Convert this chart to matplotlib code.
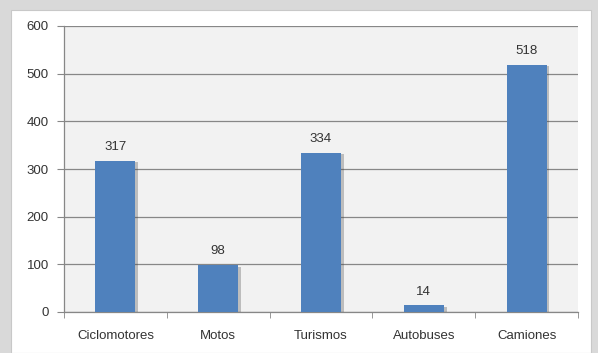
import matplotlib
matplotlib.use("Agg")
import matplotlib.pyplot as plt
import matplotlib.patheffects as pe
from matplotlib.patches import Rectangle

categorias = ["Ciclomotores", "Motos", "Turismos", "Autobuses", "Camiones"]
valores = [317, 98, 334, 14, 518]
yticks = [0, 100, 200, 300, 400, 500, 600]

plt.rcParams['font.family'] = ['Liberation Sans', 'DejaVu Sans']

fig = plt.figure(figsize=(5.98, 3.53), dpi=100)
fig.patch.set_facecolor('#d9d9d9')

# white chart area
W, H = 598, 353
fig.patches.append(Rectangle((11 / W, 0), 580 / W, 343 / H, transform=fig.transFigure,
                             facecolor='white', edgecolor='#c8c8c8', lw=0.8, zorder=-1))

ax = fig.add_axes([64 / W, (H - 312) / H, 514 / W, 286 / H])
ax.set_zorder(1)
ax.set_facecolor('#f2f2f2')

x = range(len(categorias))
barras = ax.bar(x, valores, width=0.39, color='#4f81bd', zorder=3)
for b in barras:
    b.set_path_effects([pe.SimplePatchShadow(offset=(2, -1), shadow_rgbFace='#444444', alpha=0.3),
                        pe.Normal()])

for xi, v in zip(x, valores):
    ax.text(xi, v + 29, str(v), ha='center', va='center', fontsize=9.5, color='#333333')

ax.set_xlim(-0.5, 4.5)
ax.set_ylim(0, 600)
ax.set_yticks(yticks)
ax.set_yticklabels([str(t) for t in yticks], fontsize=9.5, color='#333333')
ax.yaxis.grid(True, color='#878787', lw=0.9, zorder=1)
ax.set_axisbelow(True)

ax.set_xticks(list(x))
ax.set_xticklabels(categorias, fontsize=9.5, color='#333333')
ax.tick_params(axis='x', which='major', length=0, pad=13)
ax.set_xticks([i - 0.5 for i in range(len(categorias) + 1)], minor=True)
ax.tick_params(axis='x', which='minor', length=4, color='#878787', direction='out')
ax.tick_params(axis='y', length=5, color='#878787', pad=6)

for s in ['top', 'right']:
    ax.spines[s].set_visible(False)
for s in ['left', 'bottom']:
    ax.spines[s].set_color('#878787')
    ax.spines[s].set_linewidth(0.9)

fig.savefig('out.png', dpi=100, facecolor=fig.get_facecolor())
